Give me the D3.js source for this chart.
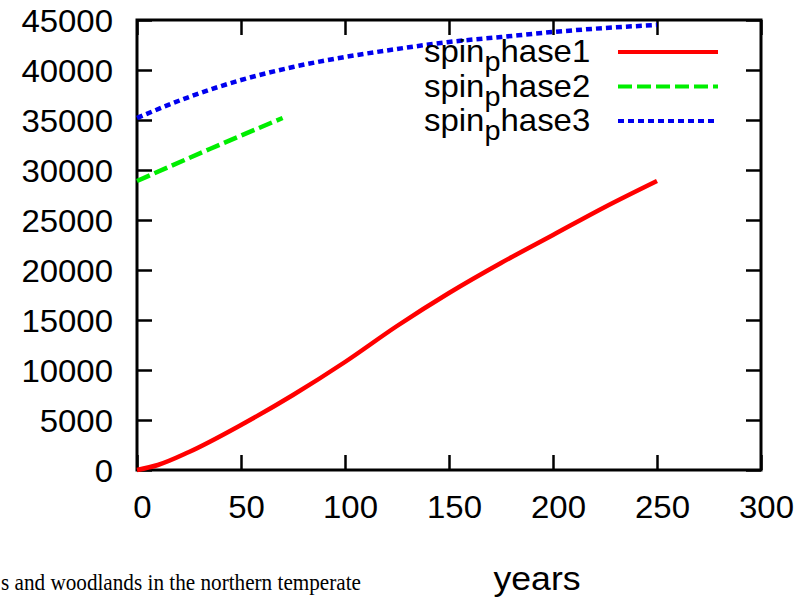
<!DOCTYPE html>
<html>
<head>
<meta charset="utf-8">
<script src="https://cdn.jsdelivr.net/npm/d3@7"></script>
<style>
  body { margin: 0; background: #fff; }
</style>
</head>
<body>
<div id="chart"></div>
<script>
// values
const years1 = [0, 10, 25, 50, 75, 100, 125, 150, 175, 200, 225, 250];
const phase1 = [0, 500, 1800, 4500, 7500, 10800, 14400, 17700, 20700, 23500, 26300, 28900];
const years2 = [0, 35, 70];
const phase2 = [28900, 32100, 35200];
const years3 = [0, 25, 50, 75, 100, 125, 150, 175, 200, 225, 250];
const phase3 = [35200, 37300, 39000, 40300, 41300, 42100, 42800, 43300, 43800, 44200, 44500];

const legendNames = ["spin_phase1", "spin_phase2", "spin_phase3"];
const xTicks = [0, 50, 100, 150, 200, 250, 300];
const yTicks = [0, 5000, 10000, 15000, 20000, 25000, 30000, 35000, 40000, 45000];

// the original picture is a little stretched sideways, so text is too
const SX = 1.03;
const fontSize = 32;

const W = 806, H = 600;
const margin = {top: 20, right: 45, bottom: 130, left: 137};

const svg = d3.select("#chart")
  .append("svg")
    .attr("width", W)
    .attr("height", H)
    .style("font-family", "'Liberation Sans', Arial, sans-serif");

const x = d3.scaleLinear()
  .domain([0, 300])
  .range([margin.left, W - margin.right]);

const y = d3.scaleLinear()
  .domain([0, 45000])
  .range([H - margin.bottom, margin.top]);

// axes with inward ticks
const xAxis = svg.append("g")
  .attr("transform", `translate(0,${y(0)})`)
  .call(d3.axisBottom(x).tickValues(xTicks).tickFormat(d3.format("d")).tickSizeInner(-15).tickSizeOuter(0));
xAxis.selectAll("text")
  .attr("y", 0).attr("dy", null)
  .attr("transform", `translate(5,48) scale(${SX},1)`);

const yAxis = svg.append("g")
  .attr("transform", `translate(${x(0)},0)`)
  .call(d3.axisLeft(y).tickValues(yTicks).tickFormat(d3.format("d")).tickSizeInner(-15).tickSizeOuter(0));
yAxis.selectAll("text")
  .attr("x", 0).attr("dy", "0.36em")
  .attr("transform", `translate(-24,0) scale(${SX},1)`);

// mirrored ticks on top and right
svg.append("g")
  .attr("transform", `translate(0,${y(45000)})`)
  .call(d3.axisTop(x).tickValues(xTicks).tickFormat("").tickSizeInner(-15).tickSizeOuter(0));
svg.append("g")
  .attr("transform", `translate(${x(300)},0)`)
  .call(d3.axisRight(y).tickValues(yTicks).tickFormat("").tickSizeInner(-15).tickSizeOuter(0));

svg.selectAll(".domain").remove();
svg.selectAll(".tick line").attr("stroke", "#000").attr("stroke-width", 2.5);
svg.selectAll(".tick text")
  .attr("fill", "#000")
  .style("font-size", fontSize + "px")
  .style("font-family", "'Liberation Sans', Arial, sans-serif");

svg.append("rect")
  .attr("x", x(0))
  .attr("y", y(45000))
  .attr("width", x(300) - x(0))
  .attr("height", y(0) - y(45000))
  .attr("fill", "none")
  .attr("stroke", "#000")
  .attr("stroke-width", 3);

// lines
const series = [
  {xs: years1, ys: phase1, color: "#ff0000", dash: null},
  {xs: years2, ys: phase2, color: "#00ee00", dash: "14,5"},
  {xs: years3, ys: phase3, color: "#0000ee", dash: "6,4"}
];

const line = d3.line()
  .curve(d3.curveMonotoneX)
  .x(d => x(d[0]))
  .y(d => y(d[1]));

series.forEach(s => {
  svg.append("path")
    .datum(d3.zip(s.xs, s.ys))
    .attr("fill", "none")
    .attr("stroke", s.color)
    .attr("stroke-width", 4.5)
    .attr("stroke-dasharray", s.dash)
    .attr("d", line);
});

// legend
const legend = svg.append("g");
legendNames.forEach((name, i) => {
  const base = 62 + i * 34.5;
  const parts = name.split("_");
  const t = legend.append("text")
    .attr("transform", `translate(424,${base}) scale(${SX},1)`)
    .style("font-size", fontSize + "px")
    .attr("fill", "#000");
  t.append("tspan").text(parts[0]);
  t.append("tspan").attr("dy", 9).style("font-size", "28px").text(parts[1][0]);
  t.append("tspan").attr("dy", -9).text(parts[1].slice(1));
  legend.append("line")
    .attr("x1", 618).attr("x2", 718)
    .attr("y1", base - 10).attr("y2", base - 10)
    .attr("stroke", series[i].color)
    .attr("stroke-width", 4)
    .attr("stroke-dasharray", series[i].dash);
});

// axis title
svg.append("text")
  .attr("transform", `translate(537,590) scale(1.08,1)`)
  .attr("text-anchor", "middle")
  .style("font-size", "33px")
  .text("years");

// caption text at the left edge
svg.append("text")
  .attr("x", 1)
  .attr("y", 590)
  .attr("textLength", 360)
  .attr("lengthAdjust", "spacingAndGlyphs")
  .style("font-family", "'Liberation Serif', 'DejaVu Serif', serif")
  .style("font-size", "23px")
  .text("s and woodlands in the northern temperate");
</script>
</body>
</html>
